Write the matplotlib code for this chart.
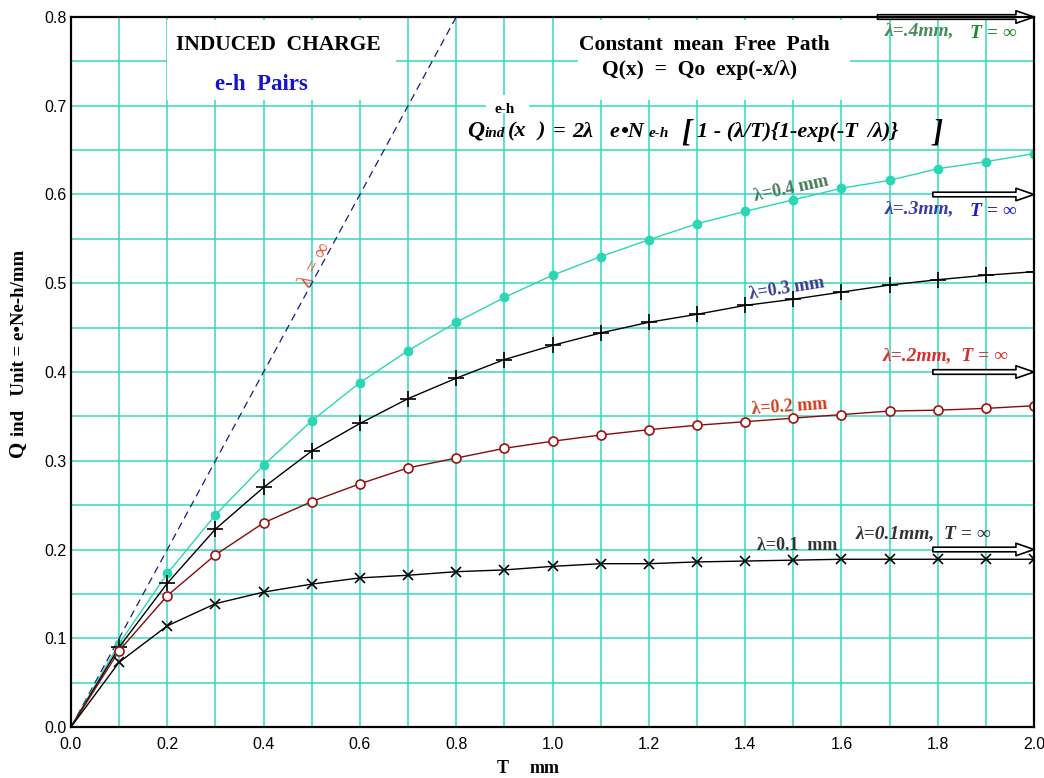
import matplotlib
matplotlib.use('Agg')
import matplotlib.pyplot as plt
from matplotlib.patches import Rectangle
import numpy as np

# thickness T (mm)
T = [0.0, 0.1, 0.2, 0.3, 0.4, 0.5, 0.6, 0.7, 0.8, 0.9, 1.0,
     1.1, 1.2, 1.3, 1.4, 1.5, 1.6, 1.7, 1.8, 1.9, 2.0]

# induced charge, one list per mean free path
q_l04 = [0.0, 0.094, 0.173, 0.239, 0.295, 0.345, 0.388, 0.424, 0.456, 0.484, 0.509,
         0.530, 0.549, 0.567, 0.581, 0.594, 0.607, 0.616, 0.629, 0.637, 0.646]
q_l03 = [0.0, 0.090, 0.162, 0.223, 0.270, 0.311, 0.342, 0.370, 0.393, 0.414, 0.430,
         0.444, 0.456, 0.465, 0.475, 0.482, 0.490, 0.498, 0.504, 0.509, 0.513]
q_l02 = [0.0, 0.086, 0.148, 0.194, 0.230, 0.254, 0.274, 0.292, 0.303, 0.314, 0.322,
         0.329, 0.335, 0.340, 0.344, 0.348, 0.352, 0.356, 0.357, 0.359, 0.362]
q_l01 = [0.0, 0.073, 0.114, 0.139, 0.152, 0.161, 0.168, 0.171, 0.175, 0.177, 0.181,
         0.184, 0.184, 0.186, 0.187, 0.188, 0.189, 0.189, 0.189, 0.189, 0.189]

# lambda = infinity line
T_inf = [0.0, 0.8]
q_inf = [0.0, 0.8]

# asymptotes for T = infinity (2*lambda)
asym_y = [0.8, 0.6, 0.4, 0.2]

SERIF = ['Liberation Serif', 'DejaVu Serif']
GRID = '#35d8bb'

fig = plt.figure(figsize=(10.44, 7.78), dpi=100)
ax = fig.add_axes([71/1044, 51/778, 963/1044, 710/778])

ax.set_xlim(0, 2.0)
ax.set_ylim(0, 0.8)
ax.set_xticks(np.arange(0, 2.01, 0.2))
ax.set_yticks(np.arange(0, 0.81, 0.1))
ax.set_xticks(np.arange(0, 2.01, 0.1), minor=True)
ax.set_yticks(np.arange(0, 0.81, 0.05), minor=True)
ax.set_xticklabels(['%.1f' % v for v in np.arange(0, 2.01, 0.2)], family='Liberation Sans', fontsize=11.5)
ax.set_yticklabels(['%.1f' % v for v in np.arange(0, 0.81, 0.1)], family='Liberation Sans', fontsize=11.5)
ax.tick_params(which='both', length=0)
ax.tick_params(axis='x', pad=7)
ax.tick_params(axis='y', pad=3)
ax.grid(which='both', color=GRID, lw=1.1)
ax.set_axisbelow(True)
for s in ax.spines.values():
    s.set_linewidth(1.6)
    s.set_color('black')
    s.set_zorder(5)

# axis titles
ax.text(0.448, -0.058, 'T', transform=ax.transAxes, family=SERIF, weight='bold', fontsize=13,
        ha='center', va='center')
ax.text(0.492, -0.058, 'mm', transform=ax.transAxes, family=SERIF, weight='bold', fontsize=13,
        ha='center', va='center')
fig.text(18/1044, 1 - 457/778, 'Q', rotation=90, family=SERIF, weight='bold', fontsize=15,
         ha='center', va='bottom')
fig.text(19.5/1044, 1 - 436/778, 'ind   Unit = e\u2022Ne-h/mm', rotation=90, family=SERIF,
         weight='bold', fontsize=13.5, ha='center', va='bottom')

# white boxes behind the titles
for (x0, x1, y0, y1) in [(0.20, 0.675, 0.706, 0.797), (1.053, 1.618, 0.707, 0.797),
                         (0.861, 0.952, 0.692, 0.712)]:
    ax.add_patch(Rectangle((x0, y0), x1 - x0, y1 - y0, facecolor='white', edgecolor='none', zorder=1))

# curves
ax.plot(T_inf, q_inf, color='#1a1a80', lw=0.9, ls=(0, (6, 4)), zorder=3)
ax.plot(T, q_l04, color='#2bd6b4', lw=1.0, marker='o', ms=6, markevery=range(1, len(T)),
        mfc='#2bd6b4', mec='#2bd6b4', zorder=3)
ax.plot(T, q_l03, color='black', lw=1.0, marker='+', ms=11, mew=1.2, markevery=range(1, len(T)), zorder=3)
ax.plot(T, q_l02, color='#8a0a0a', lw=1.0, marker='o', ms=6.5, mew=1.2, markevery=range(1, len(T)),
        mfc='white', mec='#a01010', zorder=3)
ax.plot(T, q_l01, color='black', lw=1.0, marker='x', ms=7.5, mew=1.2, markevery=range(1, len(T)), zorder=3)

# hollow arrows toward T = infinity
for i, y in enumerate(asym_y):
    x0 = 1.675 if i == 0 else 1.79
    ax.annotate('', xy=(2.0, y), xytext=(x0, y), annotation_clip=False,
                arrowprops=dict(arrowstyle='simple,head_length=1.3,head_width=0.9,tail_width=0.33',
                                fc='white', ec='black', lw=1.2, shrinkA=0, shrinkB=0), zorder=4)

# asymptote labels
lab = dict(family=SERIF, style='italic', weight='bold', fontsize=14, va='baseline')
ax.text(1.69, 0.779, '\u03bb=.4mm,', color='#4a8a5a', **lab)
ax.text(1.868, 0.776, 'T = \u221e', color='#1a8a2a', **lab)
ax.text(1.69, 0.579, '\u03bb=.3mm,', color='#3a3aa8', **lab)
ax.text(1.868, 0.576, 'T = \u221e', color='#1a1ad0', **lab)
ax.text(1.685, 0.413, '\u03bb=.2mm,  T = \u221e', color='#d83030', **lab)
ax.text(1.63, 0.213, '\u03bb=0.1mm,  T = \u221e', color='#333333', **lab)

# curve labels
cl = dict(family=SERIF, weight='bold', fontsize=13, ha='center', va='center')
ax.text(1.495, 0.607, '\u03bb=0.4 mm', color='#4a7a5a', rotation=12, **cl)
ax.text(1.487, 0.494, '\u03bb=0.3 mm', color='#3a3a90', rotation=9, **cl)
ax.text(1.493, 0.361, '\u03bb=0.2 mm', color='#d04020', rotation=4, **cl)
ax.text(1.508, 0.204, '\u03bb=0.1  mm', color='#333333', rotation=0, **cl)
ax.text(0.51, 0.52, '\u03bb = \u221e', family=SERIF, fontsize=15, color='#e85030', rotation=62,
        ha='center', va='center')

# titles
ax.text(0.43, 0.769, 'INDUCED  CHARGE', family=SERIF, weight='bold', fontsize=15.5,
        ha='center', va='center', zorder=2)
ax.text(0.395, 0.724, 'e-h  Pairs', family=SERIF, weight='bold', fontsize=16.5, color='#1414c8',
        ha='center', va='center', zorder=2)
ax.text(1.315, 0.768, 'Constant  mean  Free  Path', family=SERIF, weight='bold', fontsize=15.5,
        ha='center', va='center', zorder=2)
ax.text(1.305, 0.740, 'Q(x)  =  Qo  exp(-x/\u03bb)', family=SERIF, weight='bold', fontsize=15.5,
        ha='center', va='center', zorder=2)

# induced charge formula, built from pieces
fm = dict(family=SERIF, style='italic', weight='bold', va='baseline', zorder=2)
yb = 0.665
ax.text(0.901, 0.692, 'e-h', family=SERIF, weight='bold', fontsize=11, ha='center',
        va='baseline', zorder=2)
pieces = [(0.822, 'Q', 17), (0.858, 'ind', 11), (0.9076, '(x', 16), (0.970, ')', 16),
          (1.001, '=', 16), (1.0405, '2\u03bb', 16), (1.119, 'e', 16), (1.142, '\u2022N', 16),
          (1.2004, 'e-h', 11), (1.300, '1 - (\u03bb/T){1-exp(-T', 16), (1.653, '/\u03bb)}', 16)]
for x, s, fs in pieces:
    ax.text(x, yb, s, fontsize=fs, **fm)
ax.text(1.268, yb - 0.004, '[', fontsize=22, **fm)
ax.text(1.79, yb - 0.004, ']', fontsize=22, **fm)

fig.savefig('out.png', dpi=100)
